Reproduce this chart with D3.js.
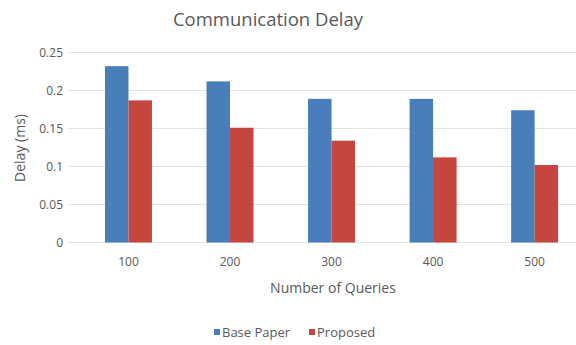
<!DOCTYPE html>
<html><head><meta charset="utf-8">
<script src="https://cdn.jsdelivr.net/npm/d3@7/dist/d3.min.js"></script>
<style>body{margin:0;background:#fff;} svg{display:block;font-family:"Open Sans",sans-serif;}</style>
</head><body><svg id="c" width="576" height="345"></svg>
<script>
const categories = ["100","200","300","400","500"];
const seriesNames = ["Base Paper","Proposed"];
const basePaper = [0.232,0.212,0.189,0.189,0.174];
const proposed = [0.187,0.151,0.134,0.112,0.102];
const yTicks = [0,0.05,0.1,0.15,0.2,0.25];
const yTickLabels = ["0","0.05","0.1","0.15","0.2","0.25"];
const colors = ["#4A7EBB","#C5463F"];

const svg = d3.select("#c");
const x = d3.scaleBand().domain(categories).range([77.7,585.4]).padding(0);
const xs = d3.scaleBand().domain(seriesNames).range([0,47]);
const y = d3.scaleLinear().domain([0,0.25]).range([242.5,52.5]);

// gridlines
svg.append("g").selectAll("line").data(yTicks).join("line")
  .attr("x1",68).attr("x2",576).attr("y1",d=>y(d)).attr("y2",d=>y(d))
  .attr("stroke","#e2e2e2").attr("stroke-width",1);

// y axis labels
const yAxis = d3.axisLeft(y).tickValues(yTicks).tickSize(0).tickPadding(0)
  .tickFormat((d,i)=>yTickLabels[i]);
const ya = svg.append("g").attr("transform","translate(63,0)").call(yAxis);
ya.select(".domain").remove();
ya.selectAll("text").attr("fill","#595959").style("font-size","12px").style("font-family","Open Sans");

// x axis labels
const xAxis = d3.axisBottom(x).tickSize(0).tickPadding(0);
const xa = svg.append("g").attr("transform","translate(0,257)").call(xAxis);
xa.select(".domain").remove();
xa.selectAll("text").attr("fill","#595959").style("font-size","12px").style("font-family","Open Sans");

const series = [basePaper, proposed];
series.forEach((vals,si)=>{
  svg.append("g").selectAll("rect").data(vals).join("rect")
    .attr("x",(d,i)=>x(categories[i]) + x.bandwidth()/2 - 23.5 + xs(seriesNames[si]))
    .attr("width",xs.bandwidth())
    .attr("y",d=>y(d)).attr("height",d=>y(0)-y(d))
    .attr("fill",colors[si]);
});

// title
svg.append("text").attr("x",268).attr("y",26).attr("text-anchor","middle")
  .attr("fill","#595959").style("font-size","18.5px").text("Communication Delay");
// axis titles
svg.append("text").attr("x",333).attr("y",293).attr("text-anchor","middle")
  .attr("fill","#595959").style("font-size","14px").text("Number of Queries");
svg.append("text").attr("transform","translate(25,148) rotate(-90)").attr("text-anchor","middle")
  .attr("fill","#595959").style("font-size","14px").text("Delay (ms)");

// legend
const lg = svg.append("g");
const legendX = [214, 309];
seriesNames.forEach((n,i)=>{
  lg.append("rect").attr("x",legendX[i]).attr("y",329).attr("width",6).attr("height",6).attr("fill",colors[i]);
  lg.append("text").attr("x",legendX[i]+8).attr("y",336.5).attr("fill","#595959").style("font-size","13px").text(n);
});
</script></body></html>
